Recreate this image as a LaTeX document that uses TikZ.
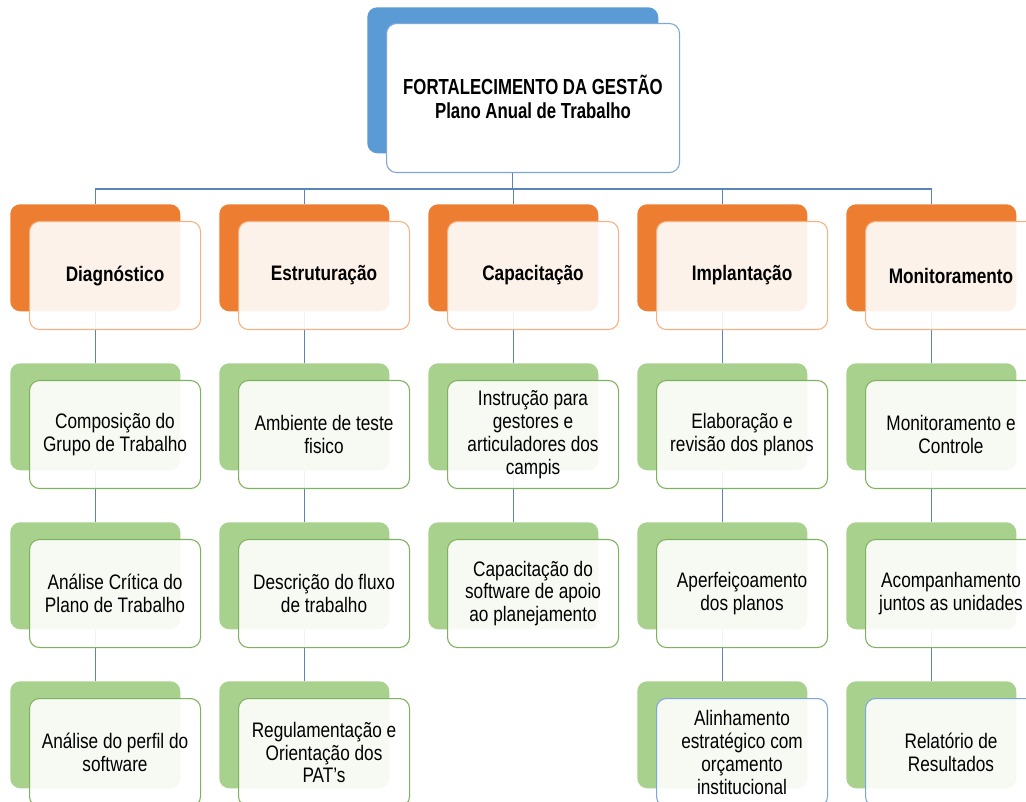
\documentclass[tikz,border=0pt]{standalone}
\usepackage{fontspec}
\setmainfont{Liberation Sans}[FakeStretch=0.82]
\newfontfamily\titlefont{Liberation Sans}[FakeStretch=0.77]
\usetikzlibrary{backgrounds}
\pgfdeclarelayer{paper}
\pgfsetlayers{paper,background,main}
\definecolor{blueback}{HTML}{5B9BD5}
\definecolor{blueedge}{HTML}{7EA6D6}
\definecolor{orangeback}{HTML}{ED7D31}
\definecolor{orangeedge}{HTML}{F4B183}
\definecolor{greenback}{HTML}{A9D18E}
\definecolor{greenedge}{HTML}{7FB25C}
\definecolor{lineblue}{HTML}{5A86B5}
\tikzset{
  backbox/.style={rectangle, rounded corners=7.5pt, draw=none, minimum width=127.5pt, minimum height=80.25pt, anchor=north west, inner sep=0pt},
  frontbox/.style={rectangle, rounded corners=7.5pt, fill=white, fill opacity=0.9, text opacity=1, line width=0.8pt, minimum width=128.25pt, minimum height=81pt, anchor=north west, align=center, inner sep=0pt, font=\fontsize{15.75}{17.1}\selectfont},
  conn/.style={draw=lineblue, line width=1pt}
}
\newcommand\stagebox[6]{%
  \node[backbox, fill=#4] (#1b) at (#2,#3) {};
  \node[frontbox, draw=#5] (#1) at ({#2+19},{#3+17}) {#6};
}
\begin{document}
\begin{tikzpicture}[x=0.75pt,y=-0.75pt]
\useasboundingbox (0,0) rectangle (1026,802);
\clip (0,0) rectangle (1026,802);
\begin{pgfonlayer}{paper}
  \fill[white] (0,0) rectangle (1026,802);
\end{pgfonlayer}
% top
\node[backbox, fill=blueback, minimum width=218.25pt, minimum height=109.5pt] (topb) at (367,7) {};
\node[frontbox, draw=blueedge, fill opacity=1, minimum width=219.75pt, minimum height=111.75pt] (top) at (386,23) {};
\node[font=\titlefont\bfseries\fontsize{16.35}{17.6}\selectfont, align=center, inner sep=0pt] (title) at (533,97) {FORTALECIMENTO DA GESTÃO\\Plano Anual de Trabalho};
\coordinate (hl) at (95,189);
\coordinate (hr) at (932,189);
% headers
\stagebox{h1}{10}{204}{orangeback}{orangeedge}{\textbf{Diagnóstico}}
\stagebox{h2}{219}{204}{orangeback}{orangeedge}{\textbf{Estruturação}}
\stagebox{h3}{428}{204}{orangeback}{orangeedge}{\textbf{Capacitação}}
\stagebox{h4}{637}{204}{orangeback}{orangeedge}{\textbf{Implantação}}
\stagebox{h5}{846}{204}{orangeback}{orangeedge}{\textbf{Monitoramento}}
% level 1
\stagebox{a1}{10}{363}{greenback}{greenedge}{Composição do\\Grupo de Trabalho}
\stagebox{a2}{219}{363}{greenback}{greenedge}{Ambiente de teste\\fisico}
\stagebox{a3}{428}{363}{greenback}{greenedge}{Instrução para\\gestores e\\articuladores dos\\campis}
\stagebox{a4}{637}{363}{greenback}{greenedge}{Elaboração e\\revisão dos planos}
\stagebox{a5}{846}{363}{greenback}{greenedge}{Monitoramento e\\Controle}
% level 2
\stagebox{b1}{10}{522}{greenback}{greenedge}{Análise Crítica do\\Plano de Trabalho}
\stagebox{b2}{219}{522}{greenback}{greenedge}{Descrição do fluxo\\de trabalho}
\stagebox{b3}{428}{522}{greenback}{greenedge}{Capacitação do\\software de apoio\\ao planejamento}
\stagebox{b4}{637}{522}{greenback}{greenedge}{Aperfeiçoamento\\dos planos}
\stagebox{b5}{846}{522}{greenback}{greenedge}{Acompanhamento\\juntos as unidades}
% level 3
\stagebox{c1}{10}{681}{greenback}{greenedge}{Análise do perfil do\\software}
\stagebox{c2}{219}{681}{greenback}{greenedge}{Regulamentação e\\Orientação dos\\PAT’s}
\stagebox{c4}{637}{681}{greenback}{blueedge}{Alinhamento\\estratégico com\\orçamento\\institucional}
\stagebox{c5}{846}{681}{greenback}{blueedge}{Relatório de\\Resultados}
\begin{scope}[on background layer]
  \draw[conn] (topb.center |- top.south) -- (topb.center |- hl);
  \draw[conn] (hl) -- (hr);
  \foreach \c in {1,2,3,4,5} {
    \draw[conn] (h\c b.north |- hl) -- (h\c b.north);
    \draw[conn] (h\c b.south) -- (a\c b.north);
    \draw[conn] (a\c b.south) -- (b\c b.north);
  }
  \foreach \c in {1,2,4,5} {
    \draw[conn] (b\c b.south) -- (c\c b.north);
  }
\end{scope}
\end{tikzpicture}
\end{document}
